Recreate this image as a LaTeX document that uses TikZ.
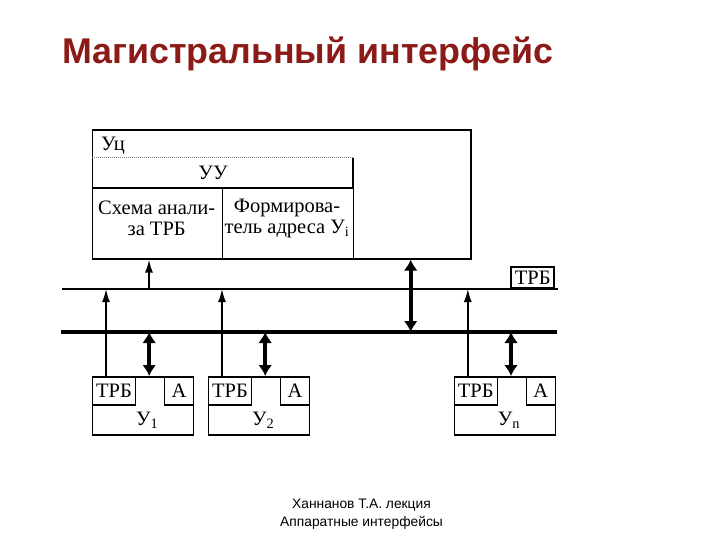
\documentclass[tikz,border=0pt]{standalone}
\usepackage{fontspec}
\setmainfont{Liberation Serif}
\newfontfamily\arialfont{Liberation Sans}
\usetikzlibrary{arrows.meta,calc}
\definecolor{titlered}{RGB}{140,26,22}
\tikzset{
  box/.style={draw=black, line width=1.6pt, inner sep=0pt, fill=none},
  lbl/.style={inner sep=0pt, font=\fontsize{20.5}{21}\selectfont},
  thinln/.style={line width=1.6pt},
  thinarrow/.style={line width=1.6pt, -{Latex[length=13pt,width=8pt]}},
  dblarrow/.style={line width=3.8pt, {Latex[length=11pt,width=14pt]}-{Latex[length=11pt,width=14pt]}},
  busline/.style={line width=4.8pt},
}
\begin{document}
\begin{tikzpicture}[x=1pt,y=-1pt]
\useasboundingbox (0,0) rectangle (720,540);
% title
\node[anchor=base west, inner sep=0pt, text=titlered,
      font=\arialfont\bfseries\fontsize{35.8}{40}\selectfont] (title) at (62,64) {Магистральный интерфейс};
% footer
\node[align=center, inner sep=0pt, font=\arialfont\fontsize{13.8}{17.5}\selectfont] (footer) at (361.5,514) {Ханнанов Т.А. лекция\\Аппаратные интерфейсы};

% central unit
\node[box, anchor=north west, minimum width=378.3pt, minimum height=129pt] (uc) at (91.7,129) {};
\node[lbl, anchor=west] (uclbl) at (101,145.5) {Уц};
\node[inner sep=0pt, anchor=north west, minimum width=261pt, minimum height=29pt] (uu) at (91.7,158) {};
\draw[line width=1pt, gray, densely dotted] (uu.north west) -- (uu.north east);
\draw[thinln] (uu.north east) -- (uu.south east);
\node[lbl] (uulbl) at (213,173) {УУ};
\node[box, anchor=north west, minimum width=130pt, minimum height=71pt] (sch) at (91.7,187) {};
\node[box, anchor=north west, minimum width=131pt, minimum height=71pt] (form) at (221.7,187) {};
\node[lbl, align=center] (schtxt) at (156.7,218) {Схема анали-\\за ТРБ};
\node[lbl, align=center] (formtxt) at (287,218) {Формирова-\\тель адреса У\textsubscript{i}};

% lines
\coordinate (trbL) at (62,289);
\coordinate (trbR) at (558,289);
\coordinate (busL) at (61,332);
\coordinate (busR) at (557,332);
\draw[thinln] (trbL) -- (trbR);
\draw[busline] (busL) -- (busR);
\node[box, anchor=south east, minimum width=43pt, minimum height=21pt, lbl] (trb) at (555,289) {ТРБ};

% connections to central unit
\coordinate (xa) at (149,0);
\coordinate (xb) at (410.7,0);
\draw[thinarrow] (trbL -| xa) -- (uc.south -| xa);
\draw[dblarrow] (busL -| xb) -- (uc.south -| xb);

% devices
\foreach \i/\x/\s in {1/91.7/1, 2/207.7/2, n/453.5/n} {
  \node[box, anchor=north west, minimum width=101pt, minimum height=58pt] (d\i) at (\x,376) {};
  \node[box, lbl, anchor=north west, minimum width=43pt, minimum height=28pt] (t\i) at (d\i.north west) {ТРБ};
  \node[box, lbl, anchor=north east, minimum width=29pt, minimum height=28pt] (a\i) at (d\i.north east) {А};
  \node[lbl] (u\i) at (\x+55.5,420) {У\textsubscript{\s}};
  \coordinate (p\i) at (\x+14.3,0);
  \coordinate (q\i) at (\x+57.5,0);
  \draw[thinarrow] (d\i.north -| p\i) -- (trbL -| p\i);
  \draw[dblarrow] (busL -| q\i) -- (d\i.north -| q\i);
}
\end{tikzpicture}
\end{document}
